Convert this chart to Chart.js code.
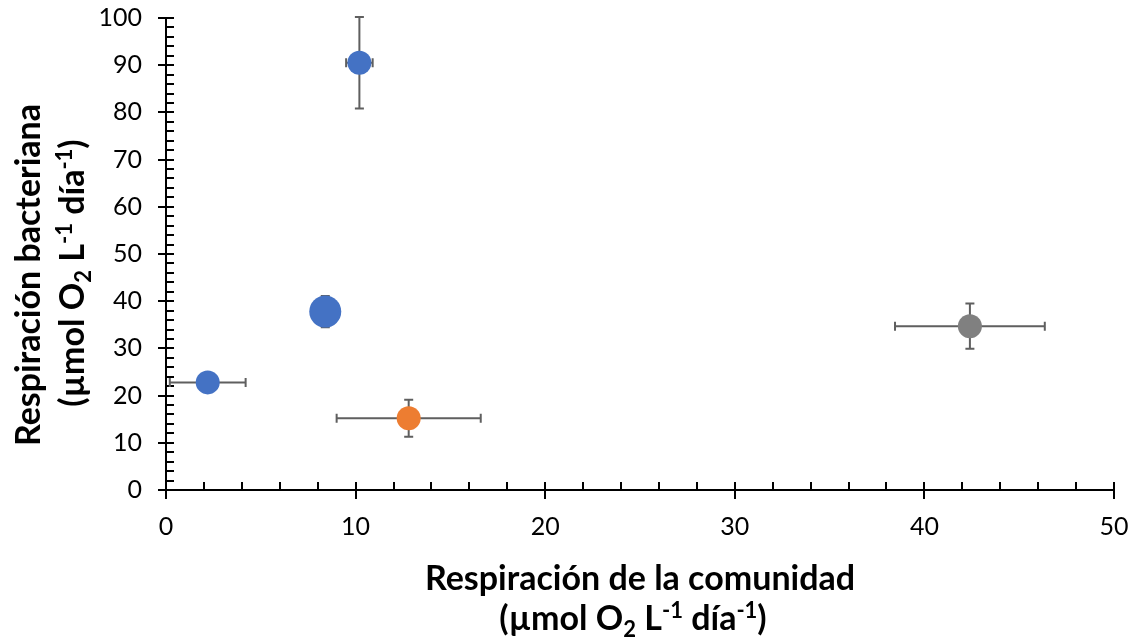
<!DOCTYPE html>
<html lang="es">
<head>
  <meta charset="UTF-8">
  <title>Respiración bacteriana vs comunidad</title>
  <script src="https://cdn.jsdelivr.net/npm/chart.js"></script>
  <style>
    html, body { margin: 0; padding: 0; background: #fff; }
    .wrap { width: 1135px; height: 642px; position: relative; }
  </style>
</head>
<body>
<div class="wrap">
  <canvas id="chart" width="1135" height="642"></canvas>
</div>

<script>
  // Data
  const blueX = [10.2, 8.4, 2.2];
  const blueY = [90.5, 37.8, 22.8];
  const blueXErr = [0.7, 0, 2.0];
  const blueYErr = [9.7, 3.3, 0];

  const orangeX = [12.8];
  const orangeY = [15.2];
  const orangeXErr = [3.8];
  const orangeYErr = [3.9];

  const grayX = [42.4];
  const grayY = [34.7];
  const grayXErr = [3.95];
  const grayYErr = [4.8];

  const xTicks = [0, 10, 20, 30, 40, 50];
  const yTicks = [0, 10, 20, 30, 40, 50, 60, 70, 80, 90, 100];

  const FONT = 'Lato, "Open Sans", sans-serif';

  function toPoints(xs, ys, xe, ye) {
    return xs.map((x, i) => ({ x: x, y: ys[i], xErr: xe[i], yErr: ye[i] }));
  }

  // error bars, drawn under the markers
  const errorBars = {
    id: 'errorBars',
    beforeDatasetsDraw(chart) {
      const ctx = chart.ctx;
      const xs = chart.scales.x, ys = chart.scales.y;
      const cap = 4.5;
      ctx.save();
      ctx.strokeStyle = '#5f5f5f';
      ctx.lineWidth = 2;
      chart.data.datasets.forEach(ds => {
        ds.data.forEach(p => {
          const px = xs.getPixelForValue(p.x);
          const py = ys.getPixelForValue(p.y);
          if (p.xErr) {
            const l = xs.getPixelForValue(p.x - p.xErr);
            const r = xs.getPixelForValue(p.x + p.xErr);
            ctx.beginPath();
            ctx.moveTo(l, py); ctx.lineTo(r, py);
            ctx.moveTo(l, py - cap); ctx.lineTo(l, py + cap);
            ctx.moveTo(r, py - cap); ctx.lineTo(r, py + cap);
            ctx.stroke();
          }
          if (p.yErr) {
            const t = ys.getPixelForValue(p.y + p.yErr);
            const b = ys.getPixelForValue(p.y - p.yErr);
            ctx.beginPath();
            ctx.moveTo(px, t); ctx.lineTo(px, b);
            ctx.moveTo(px - cap, t); ctx.lineTo(px + cap, t);
            ctx.moveTo(px - cap, b); ctx.lineTo(px + cap, b);
            ctx.stroke();
          }
        });
      });
      ctx.restore();
    }
  };

  // axis lines with major (crossing) and minor (inside) tick marks
  const axisLines = {
    id: 'axisLines',
    beforeDatasetsDraw(chart) {
      const ctx = chart.ctx;
      const xs = chart.scales.x, ys = chart.scales.y;
      const a = chart.chartArea;
      ctx.save();
      ctx.strokeStyle = '#000';
      ctx.lineWidth = 2;
      ctx.beginPath();
      ctx.moveTo(a.left, a.top); ctx.lineTo(a.left, a.bottom);
      ctx.moveTo(a.left, a.bottom); ctx.lineTo(a.right, a.bottom);
      for (let v = 0; v <= 100; v += 2) {
        const py = Math.round(ys.getPixelForValue(v));
        const major = v % 10 === 0;
        ctx.moveTo(major ? a.left - 8 : a.left, py);
        ctx.lineTo(a.left + 8, py);
      }
      for (let v = 0; v <= 50; v += 2) {
        const px = Math.round(xs.getPixelForValue(v));
        const major = v % 10 === 0;
        ctx.moveTo(px, a.bottom - 8);
        ctx.lineTo(px, major ? a.bottom + 9 : a.bottom);
      }
      ctx.stroke();
      ctx.restore();
    }
  };

  // draws a line of text runs, some as subscript / superscript
  function drawRuns(ctx, runs, cx, cy, size) {
    const small = Math.round(size * 0.65);
    let total = 0;
    runs.forEach(r => {
      ctx.font = 'bold ' + (r[1] ? small : size) + 'px ' + FONT;
      total += ctx.measureText(r[0]).width;
    });
    let x = cx - total / 2;
    ctx.textBaseline = 'alphabetic';
    ctx.textAlign = 'left';
    runs.forEach(r => {
      ctx.font = 'bold ' + (r[1] ? small : size) + 'px ' + FONT;
      let dy = 0;
      if (r[1] === 'sub') dy = size * 0.2;
      if (r[1] === 'sup') dy = -size * 0.36;
      ctx.fillText(r[0], x, cy + dy);
      x += ctx.measureText(r[0]).width;
    });
  }

  const unitRuns = [
    ['(µmol O'], ['2', 'sub'], [' L'], ['-1', 'sup'], [' día'], ['-1', 'sup'], [')']
  ];

  const axisTitles = {
    id: 'axisTitles',
    afterDraw(chart) {
      const ctx = chart.ctx;
      const size = 34;
      ctx.save();
      ctx.fillStyle = '#000';
      drawRuns(ctx, [['Respiración de la comunidad']], 640, 590, size);
      drawRuns(ctx, unitRuns, 633, 630, size);
      ctx.rotate(-Math.PI / 2);
      drawRuns(ctx, [['Respiración bacteriana']], -275, 40, size);
      drawRuns(ctx, unitRuns, -273, 84, size);
      ctx.restore();
    }
  };

  new Chart(document.getElementById('chart').getContext('2d'), {
    type: 'scatter',
    data: {
      datasets: [
        {
          label: 'Azul',
          data: toPoints(blueX, blueY, blueXErr, blueYErr),
          backgroundColor: '#4472C4',
          borderColor: '#4472C4',
          pointRadius: [12, 16, 12],
          borderWidth: 0
        },
        {
          label: 'Naranja',
          data: toPoints(orangeX, orangeY, orangeXErr, orangeYErr),
          backgroundColor: '#ED7D31',
          borderColor: '#ED7D31',
          pointRadius: 12,
          borderWidth: 0
        },
        {
          label: 'Gris',
          data: toPoints(grayX, grayY, grayXErr, grayYErr),
          backgroundColor: '#808080',
          borderColor: '#808080',
          pointRadius: 12,
          borderWidth: 0
        }
      ]
    },
    options: {
      responsive: false,
      animation: false,
      layout: { padding: { left: 0, top: 18, right: 21, bottom: 0 } },
      plugins: {
        legend: { display: false },
        tooltip: { enabled: false }
      },
      scales: {
        x: {
          type: 'linear',
          min: 0, max: 50,
          afterFit(scale) {
            scale.height = 152;
            scale.paddingLeft = 0;
            scale.paddingRight = 0;
          },
          afterBuildTicks(scale) { scale.ticks = xTicks.map(v => ({ value: v })); },
          grid: { display: false },
          border: { display: false },
          ticks: { color: '#000', padding: 14, font: { family: FONT, size: 25 } }
        },
        y: {
          type: 'linear',
          min: 0, max: 100,
          afterFit(scale) {
            scale.width = 166;
            scale.paddingTop = 0;
            scale.paddingBottom = 0;
          },
          afterBuildTicks(scale) { scale.ticks = yTicks.map(v => ({ value: v })); },
          grid: { display: false },
          border: { display: false },
          ticks: { color: '#000', padding: 16, font: { family: FONT, size: 25 } }
        }
      }
    },
    plugins: [axisLines, errorBars, axisTitles]
  });
</script>
</body>
</html>
